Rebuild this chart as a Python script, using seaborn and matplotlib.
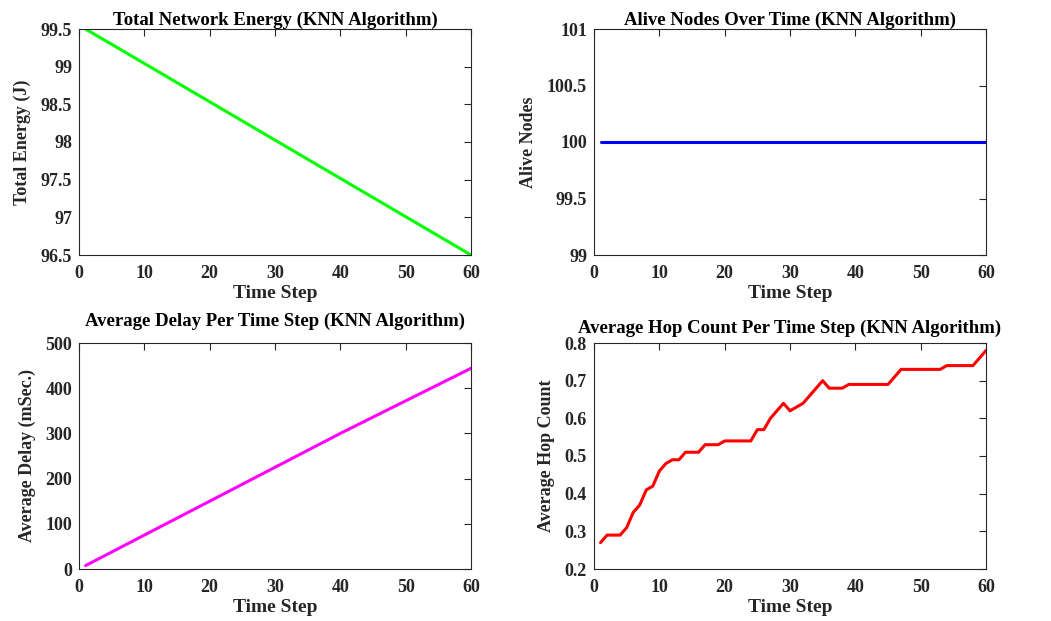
import numpy as np
import pandas as pd
import seaborn as sns
import matplotlib
matplotlib.use("Agg")
import matplotlib.pyplot as plt

time_step = list(range(1, 61))

total_energy = [99.500, 99.449, 99.398, 99.347, 99.297, 99.246, 99.195, 99.144, 99.093, 99.042,
                98.992, 98.941, 98.890, 98.839, 98.788, 98.737, 98.686, 98.636, 98.585, 98.534,
                98.483, 98.432, 98.381, 98.331, 98.280, 98.229, 98.178, 98.127, 98.076, 98.025,
                97.975, 97.924, 97.873, 97.822, 97.771, 97.720, 97.669, 97.619, 97.568, 97.517,
                97.466, 97.415, 97.364, 97.314, 97.263, 97.212, 97.161, 97.110, 97.059, 97.008,
                96.958, 96.907, 96.856, 96.805, 96.754, 96.703, 96.653, 96.602, 96.551, 96.500]

alive_nodes = [100] * 60

avg_delay = [7.5, 15, 22.5, 30, 37.5, 45, 52.5, 60, 67.5, 75,
             82.5, 90, 97.5, 105, 112.5, 120, 127.5, 135, 142.5, 150,
             157.5, 165, 172.5, 180, 187.5, 195, 202.5, 210, 217.5, 225,
             232.5, 240, 247.5, 255, 262.5, 270, 277.5, 285, 292.5, 300,
             307.2, 314.4, 321.6, 328.8, 336, 343.2, 350.4, 357.6, 364.8, 372,
             379.2, 386.4, 393.6, 400.8, 408, 415.2, 422.4, 429.6, 436.8, 444]

avg_hop = [0.27, 0.29, 0.29, 0.29, 0.31, 0.35, 0.37, 0.41, 0.42, 0.46,
           0.48, 0.49, 0.49, 0.51, 0.51, 0.51, 0.53, 0.53, 0.53, 0.54,
           0.54, 0.54, 0.54, 0.54, 0.57, 0.57, 0.60, 0.62, 0.64, 0.62,
           0.63, 0.64, 0.66, 0.68, 0.70, 0.68, 0.68, 0.68, 0.69, 0.69,
           0.69, 0.69, 0.69, 0.69, 0.69, 0.71, 0.73, 0.73, 0.73, 0.73,
           0.73, 0.73, 0.73, 0.74, 0.74, 0.74, 0.74, 0.74, 0.76, 0.78]

df = pd.DataFrame({"t": time_step, "energy": total_energy, "alive": alive_nodes,
                   "delay": avg_delay, "hop": avg_hop})

sns.set_style("white")
plt.rcParams["font.family"] = ["Liberation Serif", "DejaVu Serif"]
plt.rcParams["font.weight"] = "bold"

W, H = 1051, 621
fig = plt.figure(figsize=(W / 100, H / 100), dpi=100)

def px_axes(l, t, r, b):
    return fig.add_axes([l / W, 1 - b / H, (r - l) / W, (b - t) / H])

specs = [
    ((79, 29, 471, 255), "energy", "#00ff00", "Total Network Energy (KNN Algorithm)", "Total Energy (J)",
     (96.5, 99.5), [96.5, 97, 97.5, 98, 98.5, 99, 99.5], ["96.5", "97", "97.5", "98", "98.5", "99", "99.5"], 3),
    ((594, 29, 986, 255), "alive", "#0000ff", "Alive Nodes Over Time (KNN Algorithm)", "Alive Nodes",
     (99, 101), [99, 99.5, 100, 100.5, 101], ["99", "99.5", "100", "100.5", "101"], 3),
    ((79, 343, 471, 569), "delay", "#ff00ff", "Average Delay Per Time Step (KNN Algorithm)", "Average Delay (mSec.)",
     (0, 500), [0, 100, 200, 300, 400, 500], ["0", "100", "200", "300", "400", "500"], 12.5),
    ((594, 343, 986, 569), "hop", "#ff0000", "Average Hop Count Per Time Step (KNN Algorithm)", "Average Hop Count",
     (0.2, 0.8), [0.2, 0.3, 0.4, 0.5, 0.6, 0.7, 0.8], ["0.2", "0.3", "0.4", "0.5", "0.6", "0.7", "0.8"], 7.5),
]

for box, col, color, title, ylabel, ylim, yt, ytl, tpad in specs:
    ax = px_axes(*box)
    sns.lineplot(data=df, x="t", y=col, color=color, linewidth=2.2, ax=ax)
    ax.set_xlim(0, 60)
    ax.set_ylim(*ylim)
    ax.set_xticks([0, 10, 20, 30, 40, 50, 60])
    ax.set_xticklabels(["0", "10", "20", "30", "40", "50", "60"])
    ax.set_yticks(yt)
    ax.set_yticklabels(ytl)
    ax.tick_params(direction="in", top=True, right=True, length=5, width=0.8,
                   color="#262626", labelsize=13, labelcolor="#262626")
    ax.tick_params(axis="x", pad=7)
    ax.tick_params(axis="y", pad=5)
    for lab in ax.get_xticklabels() + ax.get_yticklabels():
        lab.set_fontweight("bold")
    for s in ax.spines.values():
        s.set_color("#262626")
        s.set_linewidth(0.8)
    ax.set_title(title, fontsize=13.5, fontweight="bold", pad=tpad, color="black")
    ax.set_xlabel("Time Step", fontsize=14, fontweight="bold", color="#262626", labelpad=2)
    ax.set_ylabel(ylabel, fontsize=13, fontweight="bold", color="#262626", labelpad=7)

fig.savefig("out.png", dpi=100)
